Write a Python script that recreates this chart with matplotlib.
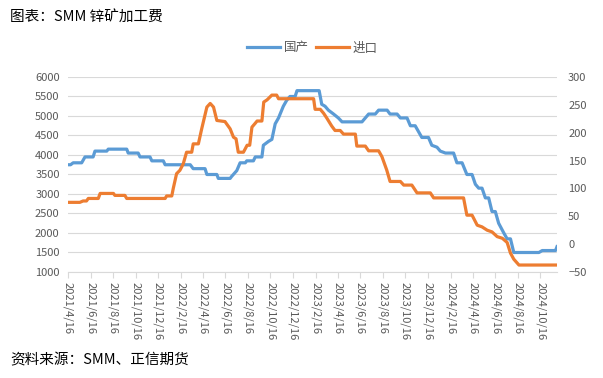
import matplotlib
matplotlib.use('Agg')
import matplotlib.pyplot as plt
import matplotlib.dates as mdates
import pandas as pd

plt.rcParams['font.family'] = ['Noto Sans CJK SC', 'DejaVu Sans']

# 国产 TC (left axis, 元/金属吨)
dom_dates = ['2021-04-16', '2021-04-23', '2021-04-30', '2021-05-23', '2021-06-01', '2021-06-23',
             '2021-06-28', '2021-07-30', '2021-08-03', '2021-09-22', '2021-09-26', '2021-10-23',
             '2021-10-28', '2021-11-24', '2021-11-29', '2021-12-30', '2022-01-04', '2022-03-13',
             '2022-03-21', '2022-04-22', '2022-04-27', '2022-05-24', '2022-05-28', '2022-06-29',
             '2022-07-03', '2022-07-17', '2022-07-26', '2022-08-09', '2022-08-13', '2022-08-31',
             '2022-09-05', '2022-09-23', '2022-09-27', '2022-10-11', '2022-10-20', '2022-10-29',
             '2022-11-07', '2022-11-20', '2022-11-29', '2022-12-08', '2022-12-22', '2022-12-27',
             '2023-02-25', '2023-03-04', '2023-03-13', '2023-03-22', '2023-04-05', '2023-04-18',
             '2023-04-28', '2023-06-21', '2023-06-30', '2023-07-09', '2023-07-27', '2023-08-05',
             '2023-08-28', '2023-09-05', '2023-09-24', '2023-10-03', '2023-10-21', '2023-10-30',
             '2023-11-12', '2023-11-30', '2023-12-18', '2023-12-27', '2024-01-10', '2024-01-19',
             '2024-02-02', '2024-02-24', '2024-03-04', '2024-03-18', '2024-03-31', '2024-04-14',
             '2024-04-23', '2024-05-02', '2024-05-11', '2024-05-20', '2024-05-29', '2024-06-07',
             '2024-06-16', '2024-06-25', '2024-07-09', '2024-07-18', '2024-07-27', '2024-08-05',
             '2024-10-12', '2024-10-21', '2024-11-26', '2024-11-30']
dom_vals = [3750, 3750, 3800, 3800, 3950, 3950, 4100, 4100, 4150, 4150, 4050, 4050,
            3950, 3950, 3850, 3850, 3750, 3750, 3650, 3650, 3500, 3500, 3400, 3400,
            3450, 3600, 3800, 3800, 3850, 3850, 3950, 3950, 4250, 4350, 4400, 4800,
            4950, 5250, 5400, 5500, 5500, 5650, 5650, 5300, 5250, 5150, 5050, 4950,
            4850, 4850, 4950, 5050, 5050, 5150, 5150, 5050, 5050, 4950, 4950, 4750,
            4750, 4450, 4450, 4250, 4200, 4100, 4050, 4050, 3800, 3800, 3500, 3500,
            3250, 3150, 3150, 2900, 2900, 2550, 2550, 2250, 2000, 1850, 1850, 1500,
            1500, 1550, 1550, 1650]

# 进口 TC (right axis, 美元/干吨)
imp_dates = ['2021-04-16', '2021-05-18', '2021-05-27', '2021-06-05', '2021-06-10', '2021-07-07',
             '2021-07-12', '2021-08-17', '2021-08-21', '2021-09-17', '2021-09-22', '2022-01-04',
             '2022-01-08', '2022-01-22', '2022-01-26', '2022-02-04', '2022-02-13', '2022-02-22',
             '2022-03-03', '2022-03-17', '2022-03-21', '2022-04-04', '2022-04-13', '2022-04-27',
             '2022-05-06', '2022-05-15', '2022-05-24', '2022-06-15', '2022-06-29', '2022-07-08',
             '2022-07-15', '2022-07-21', '2022-08-04', '2022-08-14', '2022-08-21', '2022-08-27',
             '2022-09-05', '2022-09-10', '2022-09-23', '2022-09-28', '2022-10-07', '2022-10-20',
             '2022-11-02', '2022-11-07', '2023-02-10', '2023-02-14', '2023-02-28', '2023-03-09',
             '2023-03-18', '2023-03-31', '2023-04-09', '2023-04-23', '2023-05-02', '2023-06-03',
             '2023-06-07', '2023-06-30', '2023-07-09', '2023-08-05', '2023-08-14', '2023-08-27',
             '2023-09-05', '2023-10-03', '2023-10-12', '2023-11-03', '2023-11-17', '2023-12-23',
             '2024-01-01', '2024-03-22', '2024-03-31', '2024-04-14', '2024-04-28', '2024-05-11',
             '2024-05-25', '2024-06-07', '2024-06-21', '2024-07-05', '2024-07-18', '2024-07-27',
             '2024-08-05', '2024-08-19', '2024-11-30']
imp_vals = [75, 75, 77.5, 77.5, 82, 82, 91, 91, 87.5, 87.5, 82, 82,
            86.5, 86.5, 100, 126.5, 132.5, 144, 165, 165, 180, 180, 207, 246,
            252.5, 246, 222, 220, 207, 192, 189, 165, 165, 177.5, 177.5, 210,
            217, 221, 221, 255, 259, 267.5, 267.5, 261, 261, 242, 242, 235,
            226, 212, 204, 204, 197.5, 197.5, 176, 176, 167.5, 167.5, 157, 133,
            112.5, 112.5, 106, 106, 92, 92, 83, 83, 52, 52, 34, 31,
            25, 22, 13.5, 10.5, 3, -16, -27, -37.5, -37.5]

left_ticks = [1000, 1500, 2000, 2500, 3000, 3500, 4000, 4500, 5000, 5500, 6000]
right_ticks = [-50, 0, 50, 100, 150, 200, 250, 300]

blue = '#5B9BD5'
orange = '#ED7D31'
txt = '#595959'

fig = plt.figure(figsize=(6.03, 3.78), dpi=100)
ax = fig.add_axes([68 / 603, 1 - 272 / 378, 489 / 603, 195 / 378])
ax2 = ax.twinx()

l1, = ax.plot(pd.to_datetime(dom_dates), dom_vals, color=blue, lw=2.3, label='国产')
l2, = ax2.plot(pd.to_datetime(imp_dates), imp_vals, color=orange, lw=2.3, label='进口')

ax.set_ylim(1000, 6000)
ax.set_yticks(left_ticks)
ax2.set_ylim(-50, 300)
ax2.set_yticks(right_ticks)
ax.set_xlim(pd.Timestamp('2021-04-16'), pd.Timestamp('2024-11-30'))

ax.xaxis.set_major_locator(mdates.MonthLocator(bymonth=[2, 4, 6, 8, 10, 12], bymonthday=16))
ax.xaxis.set_major_formatter(plt.FuncFormatter(
    lambda v, p: '{0.year}/{0.month}/{0.day}'.format(mdates.num2date(v))))

ax.grid(axis='y', color='#d9d9d9', lw=0.8)
ax.set_axisbelow(True)
for a in (ax, ax2):
    for s in a.spines.values():
        s.set_visible(False)
ax.spines['bottom'].set_visible(True)
ax.spines['bottom'].set_color('#d9d9d9')

ax.tick_params(axis='y', length=0, labelsize=8, labelcolor=txt, pad=6)
ax2.tick_params(axis='y', length=0, labelsize=8, labelcolor=txt, pad=8)
ax.tick_params(axis='x', length=4, color='#d9d9d9', labelsize=8, labelcolor=txt,
               labelrotation=-90, pad=3)

fig.legend(handles=[l1, l2], loc='center', bbox_to_anchor=(0.518, 1 - 48 / 378), ncol=2,
           frameon=False, fontsize=9, labelcolor=txt, handlelength=2.6, columnspacing=0.6,
           handletextpad=0.3)

fig.text(10 / 603, 1 - 18 / 378, '图表：SMM 锌矿加工费', fontsize=10.5, va='center', ha='left')
fig.text(10 / 603, 1 - 360 / 378, '资料来源：SMM、正信期货', fontsize=10.5, va='center', ha='left')

fig.savefig('out.png', dpi=100)
